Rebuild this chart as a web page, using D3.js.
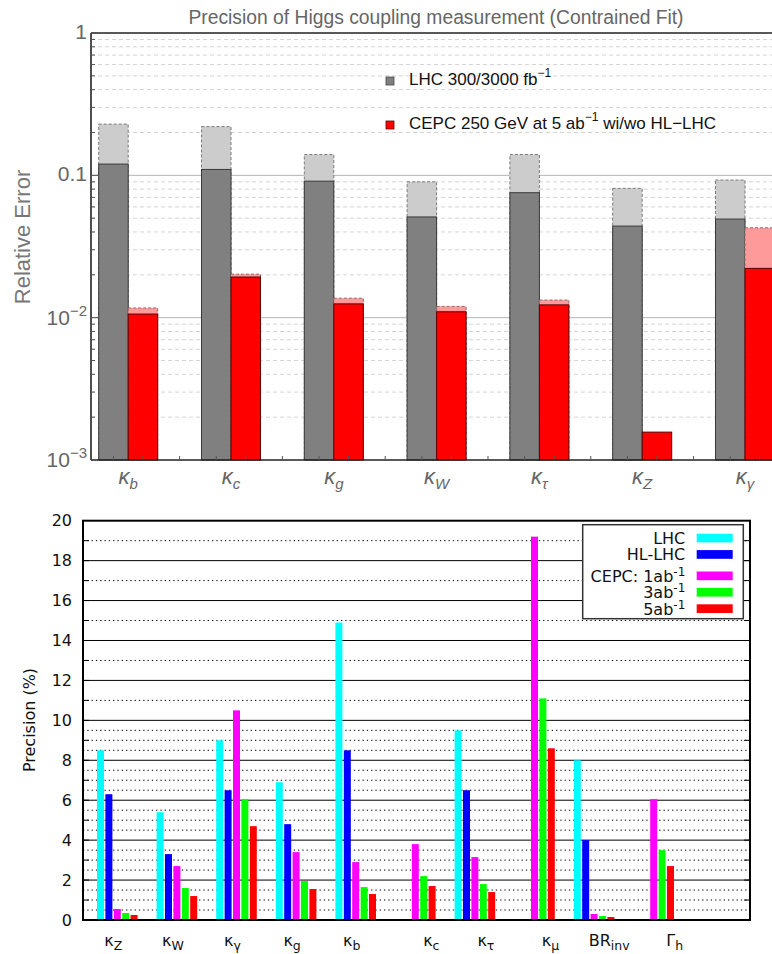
<!DOCTYPE html>
<html><head><meta charset="utf-8">
<script src="https://cdn.jsdelivr.net/npm/d3@7"></script>
<style>body{margin:0;background:#fff}svg{display:block}</style>
</head><body>
<svg id="c" width="772" height="954"></svg>
<script>
// ---------- Top chart data ----------
const topCats = ["b","c","g","W","τ","Z","γ"];
const lhc300  = [0.229, 0.220, 0.140, 0.090, 0.140, 0.081, 0.0927];   // light gray (300 fb-1)
const lhc3000 = [0.120, 0.110, 0.091, 0.051, 0.0755, 0.044, 0.0493]; // dark gray (3000 fb-1)
const cepcAlone = [0.0117, 0.0202, 0.0137, 0.0120, 0.0133, 0.00157, 0.0428]; // light red (w/o HL-LHC)
const cepcWithHL = [0.0106, 0.0193, 0.0125, 0.0110, 0.0123, 0.00157, 0.0222]; // red (with HL-LHC)
const topTickVals = [1, 0.1, 0.01, 0.001];
const topTickLabels = [["1",""],["0.1",""],["10","−2"],["10","−3"]];
const topTitle = "Precision of Higgs coupling measurement (Contrained Fit)";

// ---------- Bottom chart data ----------
const botMain = ["κ","κ","κ","κ","κ","κ","κ","κ","BR","Γ"];
const botSub  = ["Z","W","γ","g","b","c","τ","μ","inv","h"];
const labelNudge = [-4,-4,-4,-4,-4,16,11,16,15,21];
const seriesNames = ["LHC","HL-LHC","CEPC: 1ab","3ab","5ab"];
const seriesSup = ["","","-1","-1","-1"];
const seriesColors = ["#00ffff","#0000ff","#ff00ff","#00ff00","#ff0000"];
const sLHC   = [8.5, 5.4, 9.0, 6.9, 14.9, null, 9.5, null, 8.0, null];
const sHLLHC = [6.3, 3.3, 6.5, 4.8, 8.5, null, 6.5, null, 4.0, null];
const sCEPC1 = [0.55, 2.7, 10.5, 3.4, 2.9, 3.8, 3.15, 19.2, 0.3, 6.05];
const sCEPC3 = [0.35, 1.6, 6.05, 1.95, 1.65, 2.2, 1.8, 11.1, 0.2, 3.5];
const sCEPC5 = [0.25, 1.2, 4.7, 1.55, 1.3, 1.7, 1.4, 8.6, 0.15, 2.7];
const botTickVals = [0,2,4,6,8,10,12,14,16,18,20];

const svg = d3.select("#c");

// ================= TOP CHART =================
const T = {left:91, right:772, top:33, bottom:460};
const yT = d3.scaleLog().domain([1e-3, 1]).range([T.bottom, T.top]);
const xT = d3.scaleBand().domain(topCats).range([98.7, 774.5]).paddingInner(0.426).paddingOuter(0).align(0);
const xTi = d3.scaleBand().domain(["lhc","cepc"]).range([0, xT.bandwidth()]);
const gT = svg.append("g");
const fT = "'Liberation Sans', Arial, sans-serif";

// grid
const minorT = [];
[-3,-2,-1].forEach(k => { for (let m = 2; m <= 9; m++) minorT.push(m * Math.pow(10, k)); });
gT.selectAll(".gm").data(minorT).join("line")
  .attr("x1", T.left).attr("x2", T.right).attr("y1", d => yT(d)).attr("y2", d => yT(d))
  .attr("stroke", "#d4d4d4").attr("stroke-dasharray", "4,3").attr("stroke-width", 1);
gT.selectAll(".gM").data([0.1, 0.01]).join("line")
  .attr("x1", T.left).attr("x2", T.right).attr("y1", d => yT(d)).attr("y2", d => yT(d))
  .attr("stroke", "#b4b4b4").attr("stroke-width", 1);

// bars
const base = yT(1e-3);
topCats.forEach((c, i) => {
  const x0 = xT(c), w = xTi.bandwidth();
  const xg = x0 + xTi("lhc"), xr = x0 + xTi("cepc");
  gT.append("rect").attr("x", xg).attr("y", yT(lhc300[i])).attr("width", w).attr("height", base - yT(lhc300[i]))
    .attr("fill", "#cccccc").attr("stroke", "#7a7a7a").attr("stroke-dasharray", "3,2").attr("stroke-width", 1);
  gT.append("rect").attr("x", xg).attr("y", yT(lhc3000[i])).attr("width", w).attr("height", base - yT(lhc3000[i]))
    .attr("fill", "#808080").attr("stroke", "#3a3a3a").attr("stroke-width", 1);
  if (cepcAlone[i] > cepcWithHL[i]) {
    gT.append("rect").attr("x", xr).attr("y", yT(cepcAlone[i])).attr("width", w).attr("height", base - yT(cepcAlone[i]))
      .attr("fill", "#ff9a9a").attr("stroke", "#8a6a6a").attr("stroke-dasharray", "3,2").attr("stroke-width", 1);
  }
  gT.append("rect").attr("x", xr).attr("y", yT(cepcWithHL[i])).attr("width", w).attr("height", base - yT(cepcWithHL[i]))
    .attr("fill", "#ff0000").attr("stroke", "#5a0000").attr("stroke-width", 1);
});

// frame
gT.append("line").attr("x1", T.left).attr("x2", T.left).attr("y1", T.top).attr("y2", T.bottom).attr("stroke", "#222").attr("stroke-width", 1.6);
gT.append("line").attr("x1", T.left).attr("x2", T.right).attr("y1", T.top).attr("y2", T.top).attr("stroke", "#222").attr("stroke-width", 1.6);
gT.append("line").attr("x1", T.left).attr("x2", T.right).attr("y1", T.bottom).attr("y2", T.bottom).attr("stroke", "#222").attr("stroke-width", 1.6);

// left ticks
gT.selectAll(".tm").data(minorT).join("line")
  .attr("x1", T.left).attr("x2", T.left + 4).attr("y1", d => yT(d)).attr("y2", d => yT(d)).attr("stroke", "#555");
gT.selectAll(".tM").data(topTickVals).join("line")
  .attr("x1", T.left).attr("x2", T.left + 7).attr("y1", d => yT(d)).attr("y2", d => yT(d)).attr("stroke", "#555");
// bottom ticks
const btmTicks = [];
topCats.forEach(c => {
  btmTicks.push(xT(c) + xTi("lhc") + xTi.bandwidth() / 2);
  btmTicks.push(xT(c) + xTi("cepc") + xTi.bandwidth() / 2);
  btmTicks.push(xT(c) + xT.bandwidth() + (xT.step() - xT.bandwidth()) / 2);
});
gT.selectAll(".bt").data(btmTicks.filter(x => x < T.right)).join("line")
  .attr("x1", d => d).attr("x2", d => d).attr("y1", T.bottom).attr("y2", T.bottom - 4).attr("stroke", "#555");

// tick labels
topTickVals.forEach((v, i) => {
  const t = gT.append("text").attr("x", 87).attr("y", yT(v)).attr("text-anchor", "end")
    .attr("font-family", fT).attr("fill", "#666").attr("dy", topTickLabels[i][1] ? "0.45em" : "0.36em");
  t.append("tspan").attr("font-size", 21).text(topTickLabels[i][0]);
  if (topTickLabels[i][1]) t.append("tspan").attr("font-size", 15).attr("dy", -9).text(topTickLabels[i][1]);
});
gT.append("text").attr("transform", `translate(30,237) rotate(-90)`)
  .attr("text-anchor", "middle").attr("font-family", fT).attr("font-size", 22).attr("fill", "#777").text("Relative Error");
gT.append("text").attr("x", 436).attr("y", 24).attr("text-anchor", "middle")
  .attr("font-family", fT).attr("font-size", 19.3).attr("fill", "#666").text(topTitle);

// x labels
topCats.forEach(c => {
  const t = gT.append("text").attr("x", xT(c) + xT.bandwidth() / 2).attr("y", 484).attr("text-anchor", "middle")
    .attr("font-family", fT).attr("font-style", "italic").attr("fill", "#666");
  t.append("tspan").attr("font-size", 22).text("κ");
  t.append("tspan").attr("font-size", 15).attr("dy", 5).text(c);
});

// legend
const legT = [{c:"#808080", s:"#444", t:"LHC 300/3000 fb", sup:"−1", tail:""},
              {c:"#ff0000", s:"#600", t:"CEPC 250 GeV at 5 ab", sup:"−1", tail:" wi/wo HL−LHC"}];
const legY = [85, 129];
legT.forEach((d, i) => {
  gT.append("rect").attr("x", 386).attr("y", legY[i] - 8).attr("width", 8).attr("height", 8)
    .attr("fill", d.c).attr("stroke", d.s).attr("stroke-width", 0.8);
  const t = gT.append("text").attr("x", 409).attr("y", legY[i]).attr("font-family", fT).attr("font-size", 17).attr("fill", "#111");
  t.append("tspan").text(d.t);
  t.append("tspan").attr("font-size", 12).attr("dy", -8).text(d.sup);
  if (d.tail) t.append("tspan").attr("dy", 8).text(d.tail);
});

// ================= BOTTOM CHART =================
const B = {left:83, right:750, top:520.7, bottom:920};
const fB = "'DejaVu Sans', sans-serif";
const yB = d3.scaleLinear().domain([0, 20]).range([B.bottom, B.top]);
const xB = d3.scaleBand().domain(d3.range(botMain.length)).range([97, 674]).paddingInner(0.319).paddingOuter(0).align(0);
const xBi = d3.scaleBand().domain(seriesNames).range([0, xB.bandwidth()]).paddingInner(0.167).paddingOuter(0);
const gB = svg.append("g");

const minorB = d3.range(0.5, 10, 0.5).filter(v => v % 2 !== 0).concat([11, 13, 15, 17, 19]);
const majorB = [2,4,6,8,10,12,14,16,18];
gB.selectAll(".dm").data(minorB).join("line")
  .attr("x1", B.left).attr("x2", B.right).attr("y1", d => yB(d)).attr("y2", d => yB(d))
  .attr("stroke", "#000").attr("stroke-width", 1).attr("stroke-dasharray", "1.3,3");
gB.selectAll(".dM").data(majorB).join("line")
  .attr("x1", B.left).attr("x2", B.right).attr("y1", d => yB(d)).attr("y2", d => yB(d))
  .attr("stroke", "#000").attr("stroke-width", 1);

const allSeries = [sLHC, sHLLHC, sCEPC1, sCEPC3, sCEPC5];
allSeries.forEach((s, k) => {
  gB.selectAll(".b" + k).data(s.map((v, i) => ({v, i})).filter(d => d.v != null)).join("rect")
    .attr("x", d => xB(d.i) + xBi(seriesNames[k]))
    .attr("y", d => yB(d.v))
    .attr("width", xBi.bandwidth())
    .attr("height", d => yB(0) - yB(d.v))
    .attr("fill", seriesColors[k]);
});

// ticks (left & right) at integers
const intTicks = d3.range(1, 20);
gB.selectAll(".tl").data(intTicks).join("line")
  .attr("x1", B.left).attr("x2", B.left + 6).attr("y1", d => yB(d)).attr("y2", d => yB(d)).attr("stroke", "#000");
gB.selectAll(".tr").data(intTicks).join("line")
  .attr("x1", B.right - 6).attr("x2", B.right).attr("y1", d => yB(d)).attr("y2", d => yB(d)).attr("stroke", "#000");

// frame
gB.append("rect").attr("x", B.left).attr("y", B.top).attr("width", B.right - B.left).attr("height", B.bottom - B.top)
  .attr("fill", "none").attr("stroke", "#000").attr("stroke-width", 2);

// y labels
gB.selectAll(".yl").data(botTickVals).join("text")
  .attr("x", 72).attr("y", d => yB(d)).attr("dy", "0.36em").attr("text-anchor", "end")
  .attr("font-family", fB).attr("font-size", 16).attr("fill", "#111").text(d => d);
gB.append("text").attr("transform", `translate(35,720) rotate(-90)`).attr("text-anchor", "middle")
  .attr("font-family", fB).attr("font-size", 16).attr("fill", "#111").text("Precision (%)");

// x labels
botMain.forEach((m, i) => {
  const t = gB.append("text").attr("x", xB(i) + xB.bandwidth() / 2 + labelNudge[i]).attr("y", 946)
    .attr("text-anchor", "middle").attr("font-family", fB).attr("fill", "#111");
  t.append("tspan").attr("font-size", 16).text(m);
  t.append("tspan").attr("font-size", 12.5).attr("dy", 4).text(botSub[i]);
});

// legend
gB.append("rect").attr("x", 582.7).attr("y", 524.7).attr("width", 160.6).attr("height", 94)
  .attr("fill", "#fff").attr("stroke", "#333").attr("stroke-width", 1.5);
seriesNames.forEach((n, k) => {
  const by = 544 + k * 16.4 + (seriesSup[k] ? 5 : 0);
  const t = gB.append("text").attr("x", 685.3).attr("y", by).attr("text-anchor", "end")
    .attr("font-family", fB).attr("font-size", 16).attr("fill", "#111");
  t.append("tspan").text(n);
  if (seriesSup[k]) t.append("tspan").attr("font-size", 12).attr("dy", -6).text(seriesSup[k]);
  gB.append("rect").attr("x", 696.7).attr("y", by - 10.3).attr("width", 36).attr("height", 8.7).attr("fill", seriesColors[k]);
});
</script></body></html>
